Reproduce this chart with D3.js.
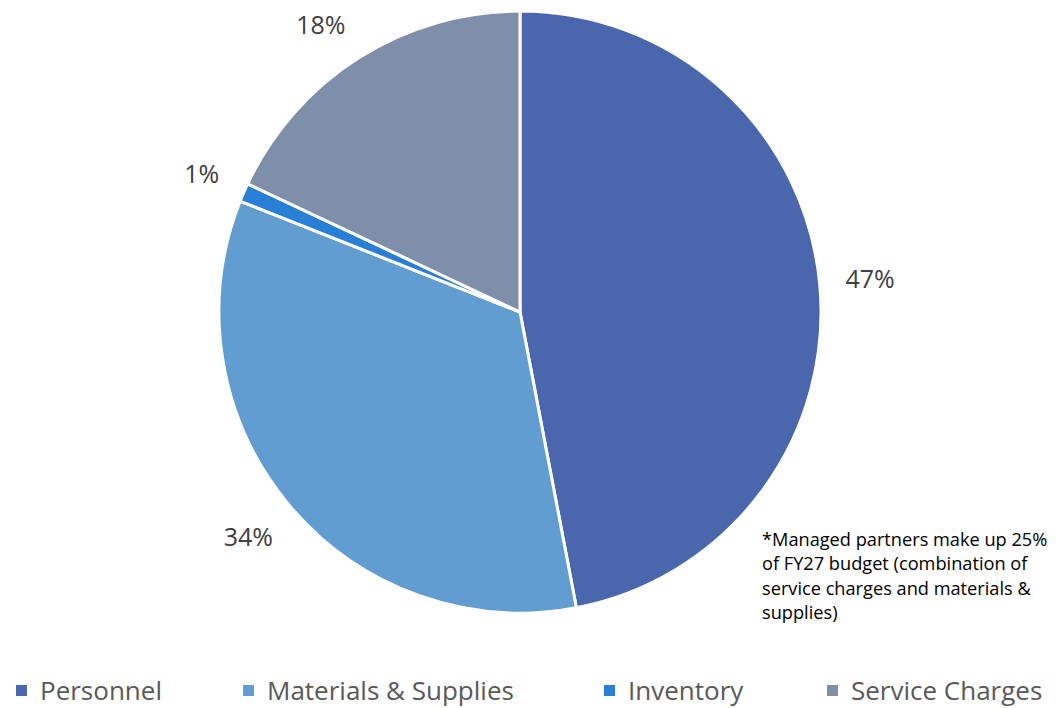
<!DOCTYPE html>
<html>
<head>
<meta charset="utf-8">
<script src="https://cdn.jsdelivr.net/npm/d3@7"></script>
<style>
  body { margin: 0; background: #fff; }
  svg { display: block; font-family: "Open Sans", "Liberation Sans", sans-serif; }
</style>
</head>
<body>
<svg width="1056" height="708"></svg>
<script>
// data
let categories = ['Personnel', 'Materials & Supplies', 'Inventory', 'Service Charges'];
let shares = [47, 34, 1, 18];
let colors = ['#4A66AC', '#629DD1', '#297FD5', '#7F8FA9'];
let noteLines = [
    '*Managed partners make up 25%',
    'of FY27 budget (combination of',
    'service charges and materials &',
    'supplies)'
];

let svg = d3.select('svg');
let width = +svg.attr('width');
let height = +svg.attr('height');

let cx = 520, cy = 312, radius = 301;
let labelGap = 25;

let data = categories.map((c, i) => ({name: c, value: shares[i]}));

let color = d3.scaleOrdinal().domain(categories).range(colors);

let pie = d3.pie().sort(null).value(d => d.value);
let arc = d3.arc().innerRadius(0).outerRadius(radius);

let g = svg.append('g').attr('transform', `translate(${cx},${cy})`);

g.selectAll('path').data(pie(data))
    .enter().append('path')
    .attr('d', arc)
    .attr('fill', d => color(d.data.name))
    .attr('stroke', '#fff')
    .attr('stroke-width', 3)
    .attr('stroke-linejoin', 'round');

// labels sit outside the edge, pushed out by half their box
let labels = g.selectAll('.label').data(pie(data))
    .enter().append('text')
    .attr('class', 'label')
    .attr('text-anchor', 'middle')
    .attr('dy', '0.35em')
    .attr('font-size', 25)
    .attr('fill', '#404040')
    .text(d => d.data.value + '%');

labels.each(function(d) {
    let box = this.getBBox();
    let a = (d.startAngle + d.endAngle) / 2;
    let sx = Math.sin(a), sy = -Math.cos(a);
    let r = radius + labelGap + Math.abs(sx) * box.width / 2 + Math.abs(sy) * 12;
    let x = sx * r, y = sy * r;
    // keep inside the top of the chart area
    let minY = 25 - cy;
    if (y < minY) {
        x = x * Math.sqrt(Math.max(0, r * r - minY * minY)) / Math.abs(x);
        y = minY;
    }
    d3.select(this).attr('transform', `translate(${x},${y})`);
});

// note on the right
let note = svg.append('text')
    .attr('x', 762)
    .attr('y', 546)
    .attr('font-size', 18.2)
    .attr('fill', '#000');
note.selectAll('tspan').data(noteLines)
    .enter().append('tspan')
    .attr('x', 762)
    .attr('dy', (d, i) => i === 0 ? 0 : 24.3)
    .text(d => d);

// legend
let legendX = [16, 243, 604, 827];
let legend = svg.append('g');
let item = legend.selectAll('g').data(categories)
    .enter().append('g')
    .attr('transform', (d, i) => `translate(${legendX[i]},0)`);
item.append('rect')
    .attr('x', 0).attr('y', 685)
    .attr('width', 11).attr('height', 11)
    .attr('fill', d => color(d));
item.append('text')
    .attr('x', 24).attr('y', 700)
    .attr('font-size', 26)
    .attr('fill', '#595959')
    .text(d => d);
</script>
</body>
</html>
